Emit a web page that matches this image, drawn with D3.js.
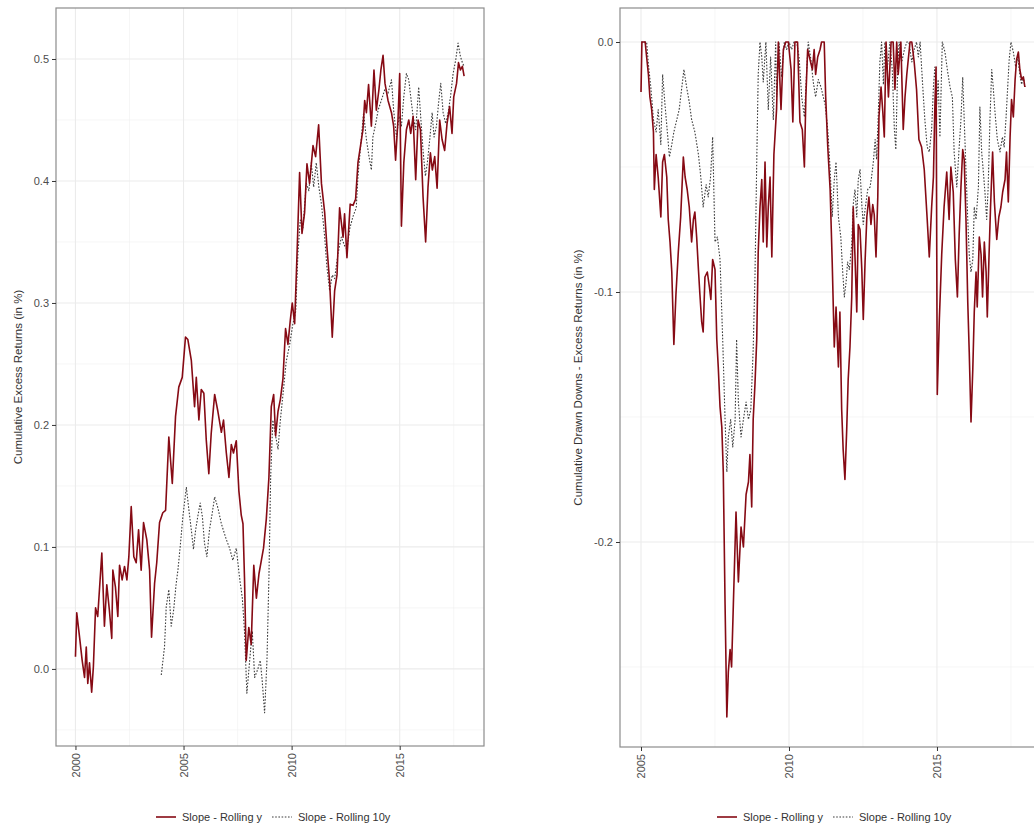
<!DOCTYPE html>
<html>
<head>
<meta charset="utf-8">
<script src="https://cdn.jsdelivr.net/npm/d3@7"></script>
<style>
  body { margin: 0; background: #fff; }
  svg { display: block; font-family: "Liberation Sans", Arial, Helvetica, sans-serif; }
</style>
</head>
<body>
<svg id="chart" width="1034" height="829"></svg>
<script>
// ---------- Cumulative excess returns (left panel) ----------
const cumRollYYears = [2000.00,2000.06,2000.19,2000.31,2000.42,2000.50,2000.57,2000.65,2000.75,2000.83,
  2000.93,2001.03,2001.22,2001.34,2001.45,2001.57,2001.68,2001.73,2001.85,2001.96,
  2002.04,2002.16,2002.27,2002.38,2002.47,2002.58,2002.70,2002.81,2002.92,2003.04,
  2003.15,2003.30,2003.43,2003.52,2003.66,2003.76,2003.89,2004.04,2004.17,2004.32,
  2004.48,2004.63,2004.78,2004.94,2005.09,2005.20,2005.36,2005.51,2005.59,2005.71,
  2005.82,2005.94,2006.05,2006.17,2006.28,2006.44,2006.59,2006.75,2006.85,2006.98,
  2007.10,2007.21,2007.31,2007.44,2007.56,2007.67,2007.75,2007.82,2007.90,2008.02,
  2008.13,2008.25,2008.37,2008.49,2008.60,2008.70,2008.83,2008.95,2009.06,2009.17,
  2009.26,2009.37,2009.48,2009.60,2009.72,2009.83,2009.94,2010.03,2010.14,2010.25,
  2010.37,2010.48,2010.60,2010.71,2010.83,2010.99,2011.11,2011.25,2011.38,2011.53,
  2011.63,2011.76,2011.88,2011.99,2012.10,2012.22,2012.38,2012.45,2012.56,2012.71,
  2012.84,2012.96,2013.07,2013.18,2013.30,2013.38,2013.46,2013.56,2013.69,2013.81,
  2013.92,2014.04,2014.13,2014.23,2014.32,2014.46,2014.62,2014.72,2014.81,2014.92,
  2015.00,2015.08,2015.19,2015.31,2015.42,2015.51,2015.62,2015.74,2015.85,2015.96,
  2016.08,2016.20,2016.31,2016.42,2016.51,2016.62,2016.73,2016.85,2016.96,2017.08,
  2017.19,2017.31,2017.42,2017.50,2017.63,2017.72,2017.81,2017.90,2017.98];
const cumRollYValues = [0.010,0.046,0.026,0.007,-0.007,0.018,-0.012,0.005,-0.019,0.002,
  0.050,0.043,0.095,0.035,0.069,0.048,0.025,0.081,0.067,0.043,
  0.085,0.073,0.084,0.073,0.092,0.133,0.092,0.087,0.114,0.081,
  0.120,0.106,0.081,0.026,0.070,0.087,0.120,0.128,0.130,0.190,
  0.152,0.207,0.231,0.239,0.272,0.270,0.253,0.215,0.239,0.204,
  0.229,0.226,0.188,0.160,0.193,0.225,0.211,0.194,0.204,0.177,
  0.157,0.184,0.177,0.187,0.146,0.126,0.119,0.075,0.007,0.034,
  0.020,0.085,0.058,0.078,0.089,0.099,0.123,0.157,0.215,0.225,
  0.191,0.211,0.221,0.238,0.279,0.266,0.286,0.300,0.283,0.340,
  0.407,0.357,0.374,0.414,0.398,0.429,0.420,0.446,0.398,0.374,
  0.347,0.317,0.272,0.310,0.323,0.378,0.354,0.373,0.337,0.381,
  0.380,0.385,0.415,0.428,0.442,0.466,0.456,0.479,0.445,0.491,
  0.458,0.475,0.491,0.503,0.480,0.466,0.456,0.445,0.417,0.450,
  0.488,0.363,0.415,0.442,0.450,0.439,0.453,0.401,0.450,0.442,
  0.387,0.350,0.395,0.423,0.409,0.420,0.394,0.450,0.434,0.425,
  0.447,0.461,0.439,0.469,0.480,0.497,0.491,0.494,0.486];

const cumRoll10Years = [2003.97,2004.12,2004.20,2004.32,2004.43,2004.54,2004.66,2004.74,2004.86,2004.97,
  2005.13,2005.25,2005.36,2005.46,2005.56,2005.66,2005.77,2005.87,2005.97,2006.08,
  2006.20,2006.33,2006.44,2006.59,2006.75,2006.98,2007.13,2007.28,2007.44,2007.59,
  2007.72,2007.82,2007.93,2008.06,2008.18,2008.29,2008.44,2008.55,2008.64,2008.75,
  2008.86,2008.95,2009.03,2009.13,2009.26,2009.37,2009.48,2009.60,2009.75,2009.91,
  2010.06,2010.19,2010.29,2010.40,2010.52,2010.68,2010.80,2010.91,2011.02,2011.14,
  2011.26,2011.38,2011.53,2011.63,2011.76,2011.88,2011.99,2012.14,2012.30,2012.45,
  2012.56,2012.69,2012.84,2012.99,2013.07,2013.23,2013.33,2013.46,2013.58,2013.69,
  2013.76,2013.89,2014.00,2014.15,2014.31,2014.46,2014.62,2014.72,2014.85,2014.97,
  2015.08,2015.19,2015.31,2015.42,2015.51,2015.62,2015.74,2015.88,2015.97,2016.08,
  2016.19,2016.28,2016.39,2016.50,2016.59,2016.70,2016.81,2016.90,2017.01,2017.13,
  2017.24,2017.35,2017.47,2017.59,2017.70,2017.81,2017.90,2017.98];
const cumRoll10Values = [-0.005,0.018,0.051,0.065,0.035,0.048,0.070,0.081,0.103,0.125,
  0.149,0.130,0.114,0.098,0.114,0.125,0.136,0.125,0.103,0.092,
  0.114,0.128,0.141,0.132,0.119,0.106,0.099,0.089,0.099,0.075,
  0.058,0.031,-0.020,0.007,0.031,-0.007,0.000,0.007,-0.010,-0.036,
  0.007,0.075,0.157,0.204,0.191,0.180,0.204,0.225,0.252,0.266,
  0.283,0.293,0.340,0.368,0.361,0.398,0.392,0.415,0.395,0.415,
  0.395,0.381,0.354,0.330,0.310,0.323,0.320,0.340,0.354,0.347,
  0.344,0.361,0.371,0.378,0.404,0.436,0.456,0.434,0.420,0.409,
  0.436,0.447,0.458,0.466,0.475,0.472,0.483,0.458,0.436,0.453,
  0.445,0.469,0.488,0.483,0.469,0.453,0.442,0.477,0.453,0.425,
  0.404,0.415,0.434,0.456,0.436,0.445,0.466,0.480,0.456,0.447,
  0.456,0.469,0.488,0.499,0.513,0.502,0.497,0.494];

// ---------- Cumulative drawdowns (right panel) ----------
const ddRollYYears = [2005.00,2005.03,2005.14,2005.19,2005.25,2005.30,2005.36,2005.42,2005.45,2005.51,
  2005.58,2005.67,2005.73,2005.79,2005.87,2005.92,2005.98,2006.04,2006.11,2006.18,
  2006.26,2006.34,2006.43,2006.49,2006.56,2006.63,2006.71,2006.77,2006.82,2006.88,
  2006.94,2006.99,2007.05,2007.10,2007.16,2007.24,2007.31,2007.36,2007.42,2007.50,
  2007.56,2007.61,2007.67,2007.73,2007.78,2007.84,2007.90,2007.95,2008.01,2008.06,
  2008.12,2008.21,2008.29,2008.38,2008.46,2008.55,2008.63,2008.68,2008.74,2008.79,
  2008.85,2008.91,2008.96,2009.02,2009.08,2009.13,2009.19,2009.25,2009.30,2009.36,
  2009.42,2009.49,2009.58,2009.64,2009.73,2009.81,2009.89,2009.98,2010.07,2010.13,
  2010.20,2010.29,2010.37,2010.45,2010.52,2010.57,2010.63,2010.71,2010.79,2010.85,
  2010.90,2010.97,2011.05,2011.10,2011.19,2011.24,2011.31,2011.39,2011.46,2011.53,
  2011.59,2011.67,2011.72,2011.78,2011.83,2011.89,2011.95,2012.00,2012.06,2012.12,
  2012.17,2012.23,2012.29,2012.34,2012.40,2012.46,2012.51,2012.57,2012.63,2012.70,
  2012.77,2012.83,2012.88,2012.94,2013.00,2013.04,2013.11,2013.17,2013.22,2013.28,
  2013.36,2013.45,2013.52,2013.58,2013.64,2013.69,2013.78,2013.86,2013.92,2013.98,
  2014.03,2014.09,2014.15,2014.23,2014.31,2014.39,2014.48,2014.57,2014.67,2014.74,
  2014.82,2014.88,2014.93,2014.97,2015.01,2015.08,2015.16,2015.24,2015.33,2015.41,
  2015.47,2015.55,2015.62,2015.69,2015.75,2015.81,2015.87,2015.92,2015.98,2016.04,
  2016.09,2016.15,2016.21,2016.26,2016.32,2016.36,2016.43,2016.49,2016.54,2016.60,
  2016.66,2016.70,2016.76,2016.81,2016.88,2016.94,2017.02,2017.09,2017.16,2017.22,
  2017.30,2017.35,2017.41,2017.47,2017.52,2017.58,2017.64,2017.69,2017.75,2017.80,
  2017.86,2017.92,2017.97];
const ddRollYValues = [-0.020,0.000,0.000,-0.006,-0.013,-0.022,-0.027,-0.036,-0.059,-0.045,
  -0.054,-0.070,-0.048,-0.045,-0.054,-0.071,-0.080,-0.092,-0.121,-0.101,
  -0.084,-0.070,-0.046,-0.054,-0.059,-0.066,-0.080,-0.071,-0.068,-0.078,
  -0.091,-0.101,-0.112,-0.116,-0.094,-0.092,-0.098,-0.103,-0.087,-0.091,
  -0.119,-0.130,-0.146,-0.154,-0.172,-0.225,-0.270,-0.252,-0.243,-0.250,
  -0.225,-0.188,-0.216,-0.194,-0.202,-0.181,-0.176,-0.165,-0.186,-0.151,
  -0.137,-0.119,-0.084,-0.066,-0.055,-0.080,-0.048,-0.082,-0.066,-0.054,
  -0.086,-0.045,-0.027,0.000,-0.027,-0.003,0.000,0.000,-0.011,-0.032,
  0.000,0.000,-0.032,-0.035,-0.050,-0.022,-0.003,-0.007,-0.011,-0.003,
  -0.013,-0.006,-0.003,0.000,0.000,-0.022,-0.042,-0.059,-0.088,-0.122,
  -0.106,-0.130,-0.108,-0.147,-0.163,-0.175,-0.155,-0.135,-0.122,-0.102,
  -0.066,-0.086,-0.108,-0.073,-0.075,-0.091,-0.111,-0.088,-0.070,-0.062,
  -0.073,-0.065,-0.069,-0.086,-0.062,-0.030,-0.018,-0.028,-0.038,0.000,
  -0.022,0.000,0.000,-0.019,0.000,-0.013,0.000,-0.035,-0.022,-0.013,
  -0.007,0.000,0.000,-0.008,-0.019,-0.039,-0.042,-0.051,-0.071,-0.086,
  -0.066,-0.054,-0.025,-0.010,-0.141,-0.111,-0.085,-0.066,-0.052,-0.071,
  -0.050,-0.060,-0.087,-0.102,-0.077,-0.058,-0.043,-0.047,-0.071,-0.104,
  -0.124,-0.152,-0.131,-0.108,-0.092,-0.106,-0.078,-0.085,-0.102,-0.080,
  -0.092,-0.110,-0.085,-0.066,-0.044,-0.064,-0.079,-0.070,-0.066,-0.060,
  -0.055,-0.044,-0.064,-0.038,-0.023,-0.030,-0.015,-0.007,-0.004,-0.011,
  -0.015,-0.014,-0.018];

const ddRoll10Years = [2005.00,2005.19,2005.25,2005.33,2005.42,2005.51,2005.58,2005.67,2005.73,2005.81,
  2005.89,2005.96,2006.04,2006.11,2006.21,2006.29,2006.38,2006.45,2006.54,2006.63,
  2006.71,2006.82,2006.94,2007.02,2007.10,2007.20,2007.27,2007.35,2007.42,2007.50,
  2007.58,2007.67,2007.76,2007.84,2007.90,2007.95,2008.03,2008.10,2008.18,2008.23,
  2008.29,2008.38,2008.46,2008.55,2008.63,2008.71,2008.79,2008.85,2008.91,2008.96,
  2009.02,2009.08,2009.13,2009.22,2009.30,2009.38,2009.47,2009.55,2009.58,2009.66,
  2009.75,2009.84,2009.92,2010.00,2010.09,2010.17,2010.26,2010.34,2010.43,2010.52,
  2010.60,2010.65,2010.74,2010.82,2010.90,2010.99,2011.08,2011.16,2011.22,2011.31,
  2011.39,2011.46,2011.53,2011.59,2011.67,2011.75,2011.81,2011.87,2011.93,2011.98,
  2012.04,2012.12,2012.17,2012.23,2012.29,2012.34,2012.40,2012.46,2012.51,2012.57,
  2012.66,2012.74,2012.79,2012.85,2012.91,2012.96,2013.02,2013.07,2013.13,2013.19,
  2013.24,2013.32,2013.41,2013.49,2013.56,2013.61,2013.67,2013.72,2013.81,2013.90,
  2013.98,2014.05,2014.15,2014.23,2014.31,2014.37,2014.43,2014.52,2014.59,2014.67,
  2014.74,2014.82,2014.88,2014.93,2014.99,2015.04,2015.10,2015.18,2015.27,2015.35,
  2015.44,2015.52,2015.58,2015.67,2015.74,2015.81,2015.87,2015.92,2015.98,2016.04,
  2016.09,2016.15,2016.21,2016.26,2016.32,2016.40,2016.45,2016.51,2016.56,2016.62,
  2016.68,2016.73,2016.79,2016.85,2016.90,2016.96,2017.04,2017.13,2017.21,2017.27,
  2017.33,2017.39,2017.44,2017.50,2017.58,2017.66,2017.73,2017.80,2017.86,2017.92,
  2017.97];
const ddRoll10Values = [0.000,0.000,-0.009,-0.018,-0.031,-0.036,-0.027,-0.041,-0.013,-0.025,
  -0.036,-0.046,-0.041,-0.036,-0.031,-0.027,-0.018,-0.011,-0.018,-0.024,
  -0.031,-0.036,-0.045,-0.054,-0.066,-0.057,-0.062,-0.054,-0.038,-0.080,
  -0.078,-0.087,-0.119,-0.151,-0.172,-0.158,-0.151,-0.162,-0.151,-0.119,
  -0.144,-0.158,-0.151,-0.144,-0.151,-0.147,-0.123,-0.094,-0.048,-0.013,
  0.000,-0.006,-0.016,0.000,-0.027,-0.006,-0.031,0.000,-0.022,0.000,
  -0.014,0.000,-0.003,0.000,-0.003,0.000,0.000,-0.006,-0.022,-0.030,
  -0.011,0.000,-0.007,-0.016,-0.022,-0.015,-0.018,-0.022,-0.025,-0.035,
  -0.051,-0.070,-0.055,-0.048,-0.070,-0.078,-0.091,-0.102,-0.096,-0.088,
  -0.091,-0.081,-0.065,-0.059,-0.070,-0.055,-0.051,-0.065,-0.073,-0.067,
  -0.059,-0.058,-0.054,-0.048,-0.039,-0.047,-0.028,-0.008,0.000,-0.017,
  0.000,-0.011,0.000,-0.011,-0.035,-0.043,-0.011,0.000,-0.008,-0.003,
  0.000,0.000,-0.008,-0.003,0.000,-0.006,0.000,-0.018,-0.031,-0.042,
  -0.044,-0.035,-0.018,-0.010,-0.025,-0.015,-0.038,0.000,-0.004,-0.011,
  -0.018,-0.022,-0.044,-0.058,-0.044,-0.031,-0.014,-0.031,-0.051,-0.071,
  -0.085,-0.092,-0.087,-0.066,-0.071,-0.058,-0.026,-0.044,-0.051,-0.060,
  -0.071,-0.058,-0.031,-0.011,-0.018,-0.028,-0.039,-0.044,-0.038,-0.042,
  -0.031,-0.018,-0.007,0.000,-0.004,-0.010,-0.006,-0.013,-0.017,-0.014,
  -0.018];

// ---------- Axes and labels ----------
const leftYearTicks = [2000, 2005, 2010, 2015];
const leftYearMinor = [2002.5, 2007.5, 2012.5, 2017.5];
const leftValueTicks = [0.0, 0.1, 0.2, 0.3, 0.4, 0.5];
const leftValueMinor = [-0.05, 0.05, 0.15, 0.25, 0.35, 0.45];
const rightYearTicks = [2005, 2010, 2015];
const rightYearMinor = [2007.5, 2012.5, 2017.5];
const rightValueTicks = [0.0, -0.1, -0.2];
const rightValueMinor = [-0.05, -0.15, -0.25];
const seriesNames = ["Slope - Rolling y", "Slope - Rolling 10y"];
const leftTitle = "Cumulative Excess Returns (in %)";
const rightTitle = "Cumulative Drawn Downs - Excess Returns (in %)";

const RED = "#860a14";
const GREY = "#3c3c3c";

const svg = d3.select("#chart");
svg.append("rect").attr("width", 1034).attr("height", 829).attr("fill", "#fff");

function drawPanel(cfg) {
  const g = svg.append("g");
  const x = d3.scaleLinear().domain(cfg.xDomain).range([cfg.left, cfg.right]);
  const y = d3.scaleLinear().domain(cfg.yDomain).range([cfg.bottom, cfg.top]);

  // grid: minor then major
  const grid = g.append("g");
  grid.selectAll(".vminor").data(cfg.xMinor).join("line")
    .attr("x1", d => x(d)).attr("x2", d => x(d))
    .attr("y1", cfg.top).attr("y2", cfg.bottom)
    .attr("stroke", "#f0f0f0").attr("stroke-width", 0.6);
  grid.selectAll(".hminor").data(cfg.yMinor).join("line")
    .attr("y1", d => y(d)).attr("y2", d => y(d))
    .attr("x1", cfg.left).attr("x2", cfg.right)
    .attr("stroke", "#f0f0f0").attr("stroke-width", 0.6);
  grid.selectAll(".vmajor").data(cfg.xTicks).join("line")
    .attr("x1", d => x(d)).attr("x2", d => x(d))
    .attr("y1", cfg.top).attr("y2", cfg.bottom)
    .attr("stroke", "#ebebeb").attr("stroke-width", 1.1);
  grid.selectAll(".hmajor").data(cfg.yTicks).join("line")
    .attr("y1", d => y(d)).attr("y2", d => y(d))
    .attr("x1", cfg.left).attr("x2", cfg.right)
    .attr("stroke", "#ebebeb").attr("stroke-width", 1.1);

  // series
  const line = d3.line().x(d => x(d[0])).y(d => y(d[1]));
  cfg.series.forEach(s => {
    g.append("path")
      .datum(d3.zip(s.years, s.values))
      .attr("fill", "none")
      .attr("stroke", s.color)
      .attr("stroke-width", s.width)
      .attr("stroke-dasharray", s.dash || null)
      .attr("stroke-linejoin", "round")
      .attr("d", line);
  });

  // panel border
  g.append("rect")
    .attr("x", cfg.left).attr("y", cfg.top)
    .attr("width", cfg.right - cfg.left).attr("height", cfg.bottom - cfg.top)
    .attr("fill", "none").attr("stroke", "#8c8c8c").attr("stroke-width", 1.2);

  // y axis
  const ya = g.append("g").attr("transform", `translate(${cfg.left},0)`)
    .call(d3.axisLeft(y).tickValues(cfg.yTicks).tickSize(4).tickPadding(3)
      .tickFormat(d => d.toFixed(1)));
  ya.select(".domain").remove();
  ya.selectAll(".tick line").attr("stroke", "#333");
  ya.selectAll(".tick text").attr("fill", "#4d4d4d")
    .style("font-size", "11px").style("font-family", "Liberation Sans, Arial, sans-serif");

  // x axis with vertical labels
  const xa = g.append("g").attr("transform", `translate(0,${cfg.bottom})`)
    .call(d3.axisBottom(x).tickValues(cfg.xTicks).tickSize(4).tickFormat(d3.format("d")));
  xa.select(".domain").remove();
  xa.selectAll(".tick line").attr("stroke", "#333");
  xa.selectAll(".tick text")
    .attr("transform", "rotate(-90)")
    .attr("text-anchor", "end")
    .attr("x", -7).attr("y", 0).attr("dy", "0.35em")
    .attr("fill", "#4d4d4d")
    .style("font-size", "11px").style("font-family", "Liberation Sans, Arial, sans-serif");

  // y title
  g.append("text")
    .attr("transform", `translate(${cfg.titleX},${(cfg.top + cfg.bottom) / 2}) rotate(-90)`)
    .attr("text-anchor", "middle").attr("dy", "0.35em")
    .attr("fill", "#333").style("font-size", "11.5px")
    .text(cfg.title);

  // legend
  const lg = g.append("g").attr("transform", `translate(${cfg.legendX},817)`);
  lg.append("line").attr("x1", 0).attr("x2", 20).attr("y1", 0).attr("y2", 0)
    .attr("stroke", RED).attr("stroke-width", 1.6);
  lg.append("text").attr("x", 26).attr("y", 0).attr("dy", "0.35em")
    .attr("fill", "#333").style("font-size", "11px").text(seriesNames[0]);
  lg.append("line").attr("x1", 116).attr("x2", 136).attr("y1", 0).attr("y2", 0)
    .attr("stroke", GREY).attr("stroke-width", 1.1).attr("stroke-dasharray", "1.6,1.6");
  lg.append("text").attr("x", 142).attr("y", 0).attr("dy", "0.35em")
    .attr("fill", "#333").style("font-size", "11px").text(seriesNames[1]);
}

drawPanel({
  left: 56, right: 484, top: 8, bottom: 746,
  xDomain: [1999.1, 2018.9], yDomain: [-0.0632, 0.5418],
  xTicks: leftYearTicks, xMinor: leftYearMinor,
  yTicks: leftValueTicks, yMinor: leftValueMinor,
  title: leftTitle, titleX: 18, legendX: 156,
  series: [
    { years: cumRoll10Years, values: cumRoll10Values, color: GREY, width: 1.1, dash: "1.6,1.6" },
    { years: cumRollYYears, values: cumRollYValues, color: RED, width: 1.6 }
  ]
});

drawPanel({
  left: 620, right: 1045, top: 8, bottom: 747,
  xDomain: [2004.29, 2018.65], yDomain: [-0.282, 0.0136],
  xTicks: rightYearTicks, xMinor: rightYearMinor,
  yTicks: rightValueTicks, yMinor: rightValueMinor,
  title: rightTitle, titleX: 578, legendX: 717,
  series: [
    { years: ddRoll10Years, values: ddRoll10Values, color: GREY, width: 1.1, dash: "1.6,1.6" },
    { years: ddRollYYears, values: ddRollYValues, color: RED, width: 1.6 }
  ]
});
</script>
</body>
</html>
